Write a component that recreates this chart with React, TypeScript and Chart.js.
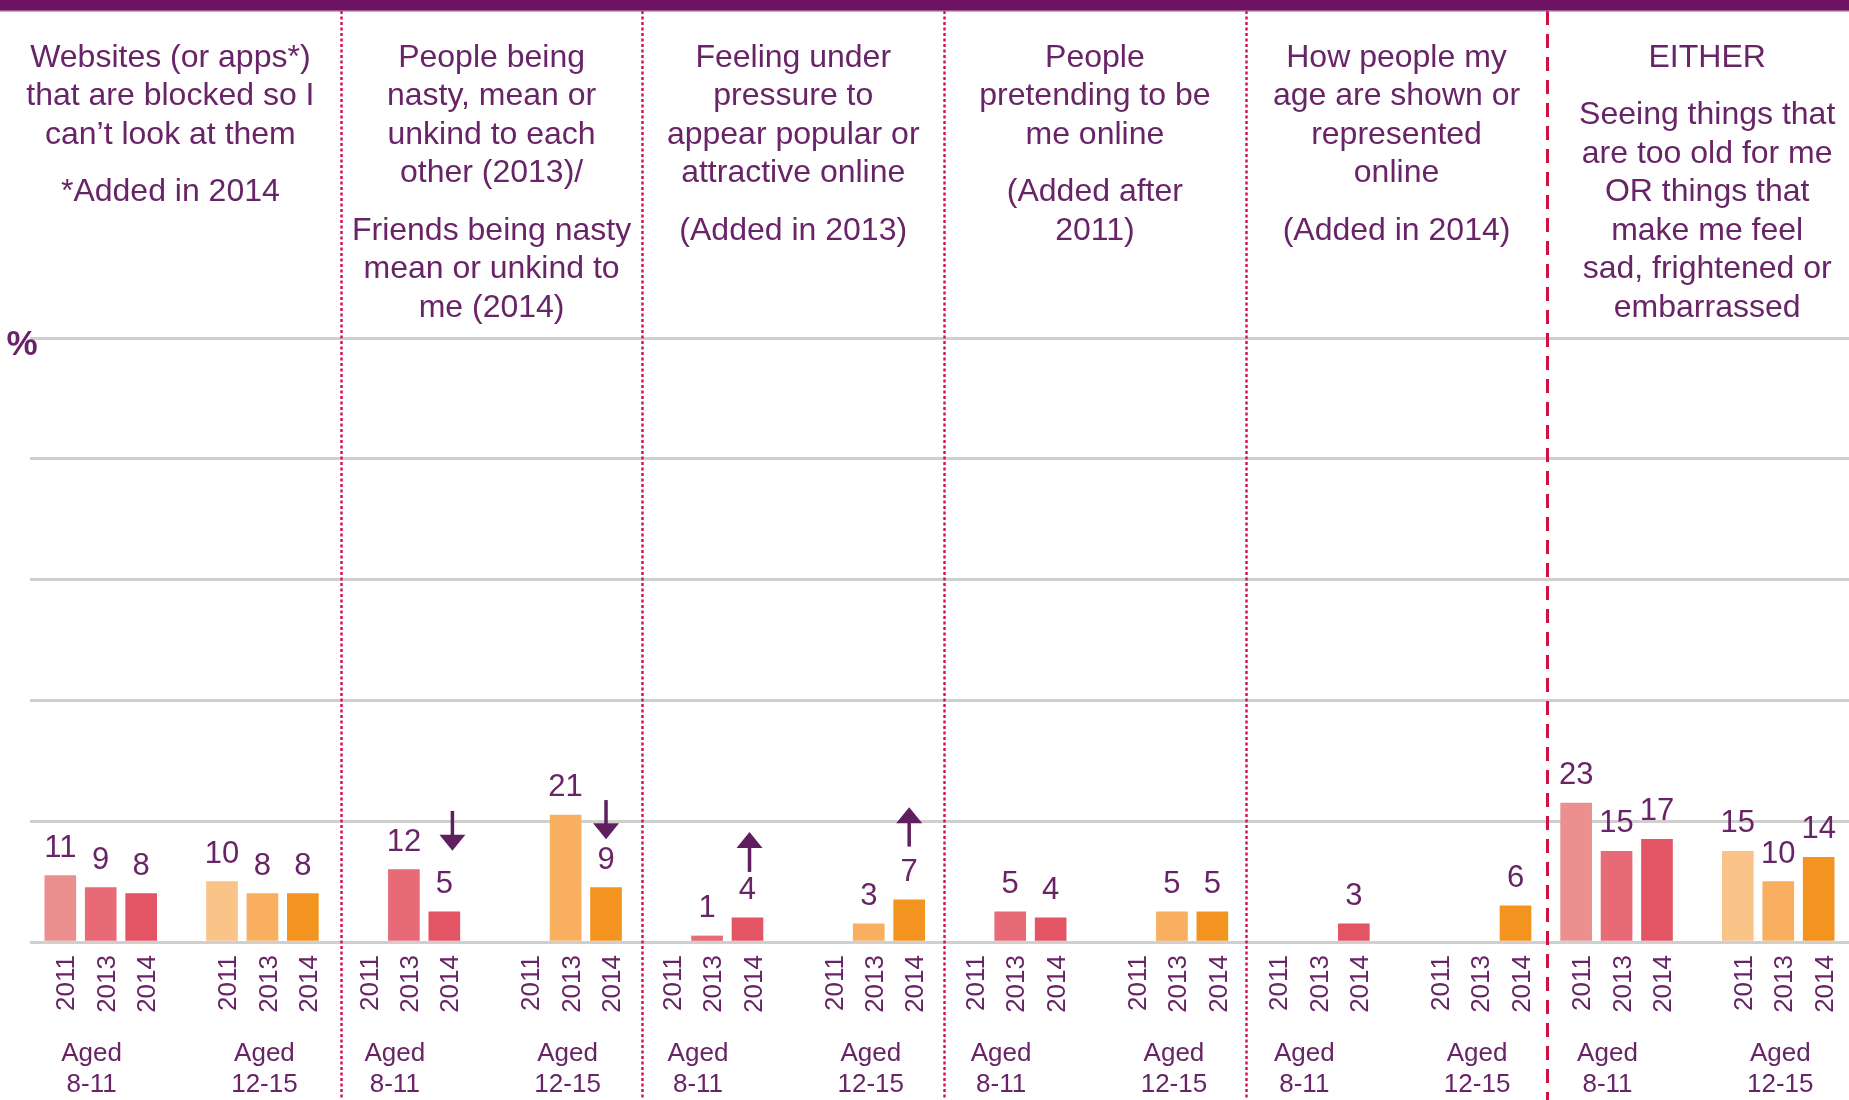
import React, { useEffect, useRef } from 'react';
import { Chart, registerables } from 'chart.js';

Chart.register(...registerables);

// ---------- DATA ----------
const panelHeadings: string[][][] = [
  [['Websites (or apps*)', 'that are blocked so I', 'can\u2019t look at them'], ['*Added in 2014']],
  [['People being', 'nasty, mean or', 'unkind to each', 'other (2013)/'], ['Friends being nasty', 'mean or unkind to', 'me (2014)']],
  [['Feeling under', 'pressure to', 'appear popular or', 'attractive online'], ['(Added in 2013)']],
  [['People', 'pretending to be', 'me online'], ['(Added after', '2011)']],
  [['How people my', 'age are shown or', 'represented', 'online'], ['(Added in 2014)']],
  [['EITHER'], ['Seeing things that', 'are too old for me', 'OR things that', 'make me feel', 'sad, frightened or', 'embarrassed']],
];

const ageGroups = ['8-11', '12-15'];
const years = ['2011', '2013', '2014'];

const aged8to11_2011 = [11, null, null, null, null, 23];
const aged8to11_2013 = [9, 12, 1, 5, null, 15];
const aged8to11_2014 = [8, 5, 4, 4, 3, 17];
const aged12to15_2011 = [10, null, null, null, null, 15];
const aged12to15_2013 = [8, 21, 3, 5, null, 10];
const aged12to15_2014 = [8, 9, 7, 5, 6, 14];

const colors8to11 = ['#EB8F8F', '#E86A76', '#E35565'];
const colors12to15 = ['#FAC388', '#F8AF5F', '#F39420'];

// significant-change arrows next to the 2014 bars: tail and tip given in % units
const changeArrows = [
  { panel: 1, group: 0, dir: 'down', tail: 21.7, tip: 15.1, shift: 0.4 },
  { panel: 1, group: 1, dir: 'down', tail: 23.5, tip: 17.0, shift: 0 },
  { panel: 2, group: 0, dir: 'up', tail: 11.6, tip: 18.2, shift: 0.1 },
  { panel: 2, group: 1, dir: 'up', tail: 15.8, tip: 22.3, shift: 0 },
];

const yTickValues = [0, 20, 40, 60, 80, 100];

// ---------- LAYOUT HELPERS ----------
const seriesValues = [
  [aged8to11_2011, aged8to11_2013, aged8to11_2014],
  [aged12to15_2011, aged12to15_2013, aged12to15_2014],
];
const groupColors = [colors8to11, colors12to15];

const PANEL_SLOTS = 15;
const slotValue = (p: number, g: number, b: number) => p * PANEL_SLOTS + g * 8 + b * 2 + 1.5;

const PURPLE = '#682466';
const FONT = '"Liberation Sans", Arial, sans-serif';

const tickPositions: number[] = [];
const tickLabels: string[] = [];
panelHeadings.forEach((_, p) => {
  ageGroups.forEach((__, g) => {
    years.forEach((yr, b) => {
      tickPositions.push(slotValue(p, g, b));
      tickLabels.push(yr);
    });
  });
});

const overlayPlugin = {
  id: 'overlay',
  afterDraw(chart: any) {
    const { ctx, chartArea, scales } = chart;
    const x = scales.x;
    const y = scales.y;
    ctx.save();

    // separators
    const seps: number[] = [];
    for (let p = 1; p < panelHeadings.length; p++) {
      seps.push(x.getPixelForValue(p * PANEL_SLOTS + 0.45 - 0.075 * p));
    }
    seps.forEach((sx, i) => {
      ctx.beginPath();
      if (i === seps.length - 1) {
        ctx.strokeStyle = '#D0103F';
        ctx.lineWidth = 3;
        ctx.setLineDash([14, 9]);
      } else {
        ctx.strokeStyle = '#D41245';
        ctx.lineWidth = 2.4;
        ctx.setLineDash([3, 2.5]);
      }
      ctx.moveTo(Math.round(sx) + 0.5, 11);
      ctx.lineTo(Math.round(sx) + 0.5, chart.height);
      ctx.stroke();
    });
    ctx.setLineDash([]);

    // headings
    ctx.fillStyle = PURPLE;
    ctx.textAlign = 'center';
    ctx.textBaseline = 'alphabetic';
    ctx.font = `32px ${FONT}`;
    panelHeadings.forEach((paras, p) => {
      let cx: number;
      if (p === 0) cx = seps[0] / 2;
      else if (p === panelHeadings.length - 1) cx = (seps[p - 1] + chartArea.right + 18) / 2;
      else cx = (seps[p - 1] + seps[p]) / 2;
      let base = 66.7;
      paras.forEach((lines) => {
        lines.forEach((line) => {
          ctx.fillText(line, cx, base);
          base += 38.5;
        });
        base += 19;
      });
    });

    // % label
    ctx.font = `bold 35px ${FONT}`;
    ctx.textAlign = 'center';
    ctx.fillText('%', 22, 355);

    // value labels
    ctx.font = `31px ${FONT}`;
    ctx.textAlign = 'center';
    seriesValues.forEach((byYear, g) => {
      byYear.forEach((vals, b) => {
        vals.forEach((v, p) => {
          if (v === null || v === undefined) return;
          const px = x.getPixelForValue(slotValue(p, g, b));
          const py = y.getPixelForValue(v);
          ctx.fillText(String(v), px, py - 19);
        });
      });
    });

    // arrows
    ctx.fillStyle = '#5F1F5E';
    ctx.strokeStyle = '#5F1F5E';
    changeArrows.forEach((a) => {
      const px = x.getPixelForValue(slotValue(a.panel, a.group, 2) + a.shift);
      const tail = y.getPixelForValue(a.tail);
      const tip = y.getPixelForValue(a.tip);
      const headH = 16, headW = 26;
      const dirSign = tip > tail ? 1 : -1; // 1 = pointing down
      ctx.lineWidth = 3.5;
      ctx.beginPath();
      ctx.moveTo(px, tail);
      ctx.lineTo(px, tip - dirSign * (headH - 2));
      ctx.stroke();
      ctx.beginPath();
      ctx.moveTo(px - headW / 2, tip - dirSign * headH);
      ctx.lineTo(px + headW / 2, tip - dirSign * headH);
      ctx.lineTo(px, tip);
      ctx.closePath();
      ctx.fill();
    });

    // age group labels
    ctx.fillStyle = PURPLE;
    ctx.font = `26px ${FONT}`;
    ctx.textAlign = 'center';
    panelHeadings.forEach((_, p) => {
      ageGroups.forEach((ag, g) => {
        const cx = x.getPixelForValue(slotValue(p, g, 1) + (g === 0 ? -0.45 : 0.1));
        ctx.fillText('Aged', cx, 1061);
        ctx.fillText(ag, cx, 1092);
      });
    });

    // top band
    ctx.fillStyle = '#6E1264';
    ctx.fillRect(0, 0, chart.width, 10);
    ctx.fillStyle = '#9C5B94';
    ctx.fillRect(0, 10, chart.width, 1.5);

    ctx.restore();
  },
};

export default function App() {
  const canvasRef = useRef<HTMLCanvasElement | null>(null);

  useEffect(() => {
    const canvas = canvasRef.current;
    if (!canvas) return;

    const datasets: any[] = [];
    seriesValues.forEach((byYear, g) => {
      byYear.forEach((vals, b) => {
        datasets.push({
          label: `Aged ${ageGroups[g]} ${years[b]}`,
          data: vals.map((v, p) => ({ x: slotValue(p, g, b), y: v })),
          backgroundColor: groupColors[g][b],
          borderWidth: 0,
          barThickness: 31,
          grouped: false,
        });
      });
    });

    const chart = new Chart(canvas, {
      type: 'bar',
      data: { datasets },
      plugins: [overlayPlugin],
      options: {
        animation: false,
        responsive: false,
        maintainAspectRatio: false,
        layout: { padding: { left: 30, right: 0, top: 338, bottom: 0 } },
        plugins: {
          legend: { display: false },
          tooltip: { enabled: false },
        },
        scales: {
          x: {
            type: 'linear',
            offset: false,
            min: 0,
            max: panelHeadings.length * PANEL_SLOTS,
            grid: { display: false, drawTicks: false, offset: false },
            border: { display: false },
            afterBuildTicks: (scale: any) => {
              scale.ticks = tickPositions.map((v) => ({ value: v }));
            },
            afterFit: (scale: any) => {
              scale.height = 158;
              scale.paddingLeft = 0;
              scale.paddingRight = 0;
            },
            ticks: {
              autoSkip: false,
              minRotation: 90,
              maxRotation: 90,
              padding: 13,
              labelOffset: 7,
              color: PURPLE,
              font: { family: FONT, size: 26 },
              callback: (_v: any, i: number) => tickLabels[i],
            },
          },
          y: {
            type: 'linear',
            min: 0,
            max: 100,
            afterBuildTicks: (scale: any) => {
              scale.ticks = yTickValues.map((v) => ({ value: v }));
            },
            afterFit: (scale: any) => {
              scale.width = 0;
              scale.paddingTop = 0;
              scale.paddingBottom = 0;
            },
            ticks: { display: false },
            grid: { color: '#CFCFCF', lineWidth: 3, drawTicks: false },
            border: { display: false },
          },
        },
      } as any,
    });

    return () => chart.destroy();
  }, []);

  return (
    <div style={{ position: 'fixed', left: 0, top: 0, width: 1849, height: 1100, background: '#fff' }}>
      <canvas ref={canvasRef} width={1849} height={1100} style={{ width: 1849, height: 1100, display: 'block' }} />
    </div>
  );
}
